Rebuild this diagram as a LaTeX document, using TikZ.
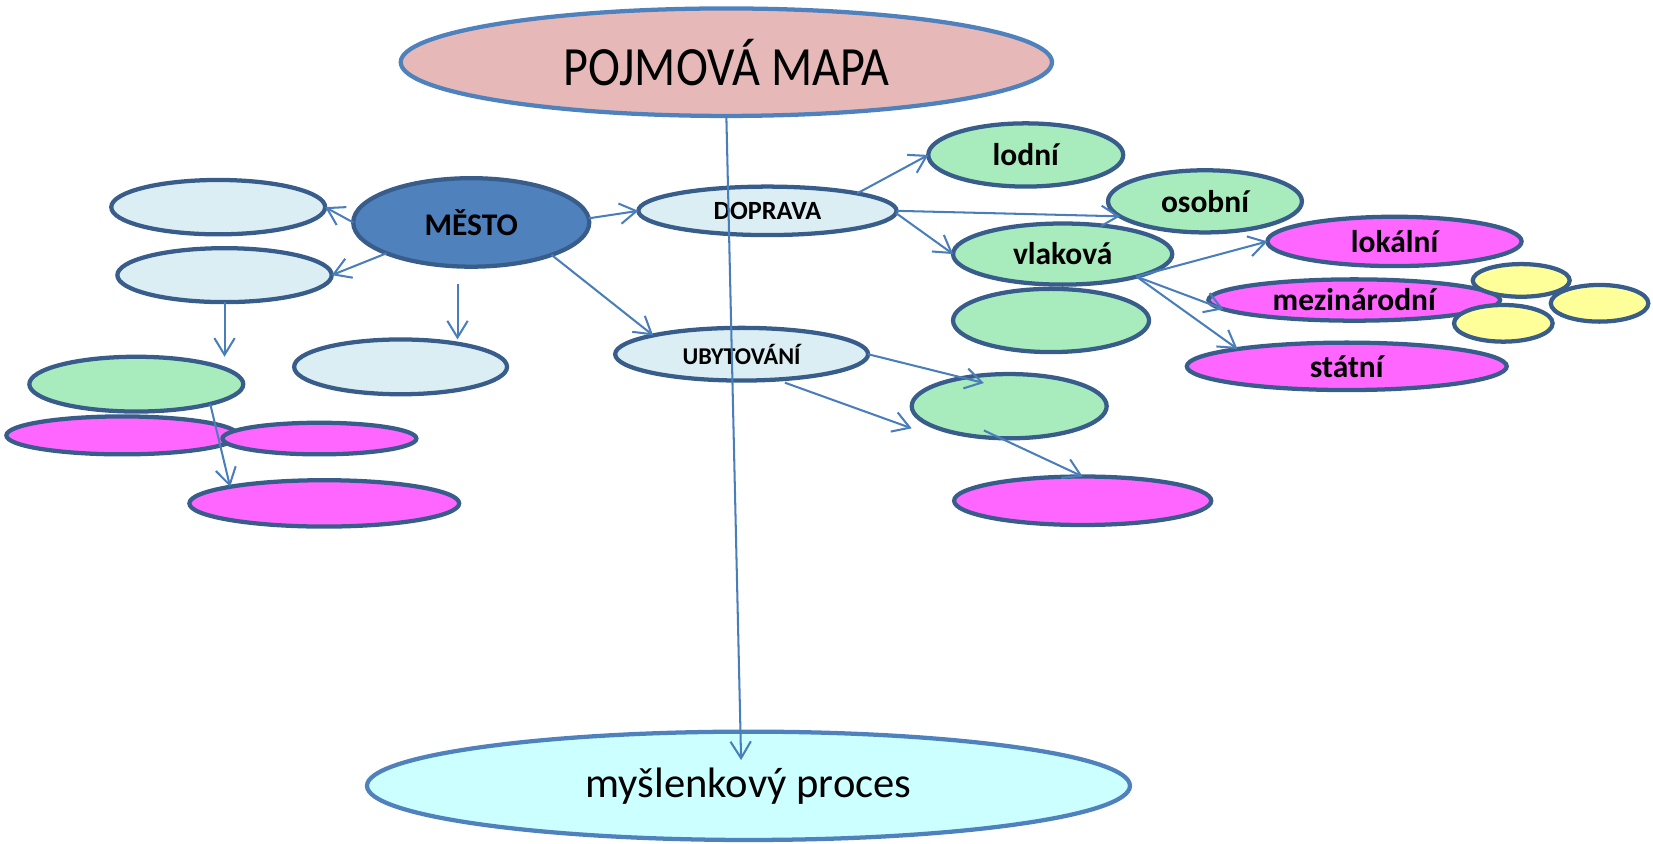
\documentclass[tikz,border=0pt]{standalone}
\usepackage{fontspec}
\setmainfont{Carlito}
\usepackage{graphicx}
\usetikzlibrary{arrows.meta,shapes.geometric,calc}
\definecolor{topc}{HTML}{E6B9B8}
\definecolor{botc}{HTML}{CCFFFF}
\definecolor{edgeblue}{HTML}{4F81BD}
\definecolor{darkb}{HTML}{385D8A}
\definecolor{lblue}{HTML}{DBEEF4}
\definecolor{lgreen}{HTML}{A8EBBD}
\definecolor{magc}{HTML}{FF66FF}
\definecolor{yelc}{HTML}{FFFF99}
\definecolor{arrc}{HTML}{4A7EBB}
\newcommand{\tallbig}[1]{\scalebox{1}[1.15]{#1}}
\begin{document}
\begin{tikzpicture}[x=0.02cm,y=-0.02cm,
  E/.style n args={2}{ellipse, inner sep=0pt, outer sep=0pt, minimum width=#1*0.04cm, minimum height=#2*0.04cm},
  box/.style={draw=darkb, line width=2.3pt},
  lb/.style={box, fill=lblue},
  gr/.style={box, fill=lgreen},
  mg/.style={box, fill=magc},
  yl/.style={box, fill=yelc},
  lbl/.style={font=\fontsize{17}{20}\selectfont\bfseries},
  doplbl/.style={font=\fontsize{14.2}{17}\selectfont\bfseries},
  ubylbl/.style={font=\fontsize{13}{16}\selectfont\bfseries},
  arr/.style={draw=arrc, line width=1.1pt, -{Straight Barb[length=9pt,width=11pt]}},
]
\useasboundingbox (0,0) rectangle (1568,800);
% big ellipses
\node[E={309}{51}, fill=topc, draw=edgeblue, line width=2.3pt, font=\fontsize{26}{31}\selectfont] (top) at (689,59) {\tallbig{POJMOVÁ MAPA}};
\node[E={362}{51.4}, fill=botc, draw=edgeblue, line width=2.3pt, font=\fontsize{23}{28}\selectfont] (bot) at (710,745.4) {myšlenkový proces};
% left part
\node[E={112}{42}, box, fill=edgeblue, lbl] (mesto) at (447,211) {MĚSTO};
\node[E={101.5}{25.8}, lb] (a1) at (207,196.5) {};
\node[E={101.7}{25.6}, lb] (a2) at (213,261) {};
\node[E={101}{26}, lb] (a3) at (380,348) {};
\node[E={122.5}{23}, lb, doplbl] (dop) at (728,200) {DOPRAVA};
\node[E={120}{25}, lb, ubylbl] (ubyt) at (703.5,336) {UBYTOVÁNÍ};
\node[E={101.5}{26}, gr] (gl) at (129.3,364.4) {};
\node[E={110}{18}, mg] (m1) at (116,413) {};
\node[E={92}{15}, mg] (m2) at (303,416) {};
\node[E={128}{22}, mg] (m3) at (307.6,477.5) {};
% right part
\node[E={92.5}{30}, gr, lbl] (lodni) at (973,147) {lodní};
\node[E={93}{30}, gr] (g1) at (997,304) {};
\node[E={104}{29}, gr, lbl] (vlak) at (1008,241) {vlaková};
\node[E={92}{29.5}, gr, lbl] (osob) at (1143,191) {osobní};
\node[E={120.6}{23.4}, mg, lbl] (lok) at (1322.8,229) {lokální};
\node[E={138.4}{19.6}, mg, lbl] (mezi) at (1284.6,284.6) {mezinárodní};
\node[E={46.3}{17.4}, yl] (y2) at (1517.3,287.7) {};
\node[E={46}{15.5}, yl] (y1) at (1443,266) {};
\node[E={46.8}{17.4}, yl] (y3) at (1426,306.7) {};
\node[E={151.8}{22.5}, mg, lbl] (stat) at (1277.5,347.5) {státní};
\node[E={92.5}{30.5}, gr] (g2) at (957.3,385.3) {};
\node[E={122}{23}, mg] (mb) at (1027,475) {};
% connectors
\coordinate (a3in) at (434,269);
\draw[arr] (mesto.west) -- (a1.east);
\draw[arr] (mesto.200) -- (a2.east);
\draw[arr] (a3in) -- (a3in |- a3.north);
\draw[arr] (mesto.-22) -- (ubyt.168);
\draw[arr] (mesto.2) -- (dop.west);
\draw[arr] (a2.south) -- (a2.south |- gl.north);
\draw[arr] (gl.-15) -- (m3.170);
\draw[arr] (dop.11) -- (lodni.west);
\draw[arr] (dop.east) -- (osob.190);
\draw[arr] (dop.-1) -- (vlak.west);
\draw[arr] (vlak.-17) -- (lok.west);
\draw[arr] (vlak.-17) -- (mezi.184);
\draw[arr] (vlak.-17) -- (stat.171);
\draw[arr] (ubyt.east) -- ($(g2.center)+(-24,-22)$);
\draw[arr] ($(ubyt.south)+(41,2)$) -- ($(g2.west)+(0,21)$);
\draw[arr] ($(g2.center)+(-24,23)$) -- (mb.north);
\draw[arr] (top.south) -- ($(bot.north)+(-7,27)$);
\end{tikzpicture}
\end{document}
